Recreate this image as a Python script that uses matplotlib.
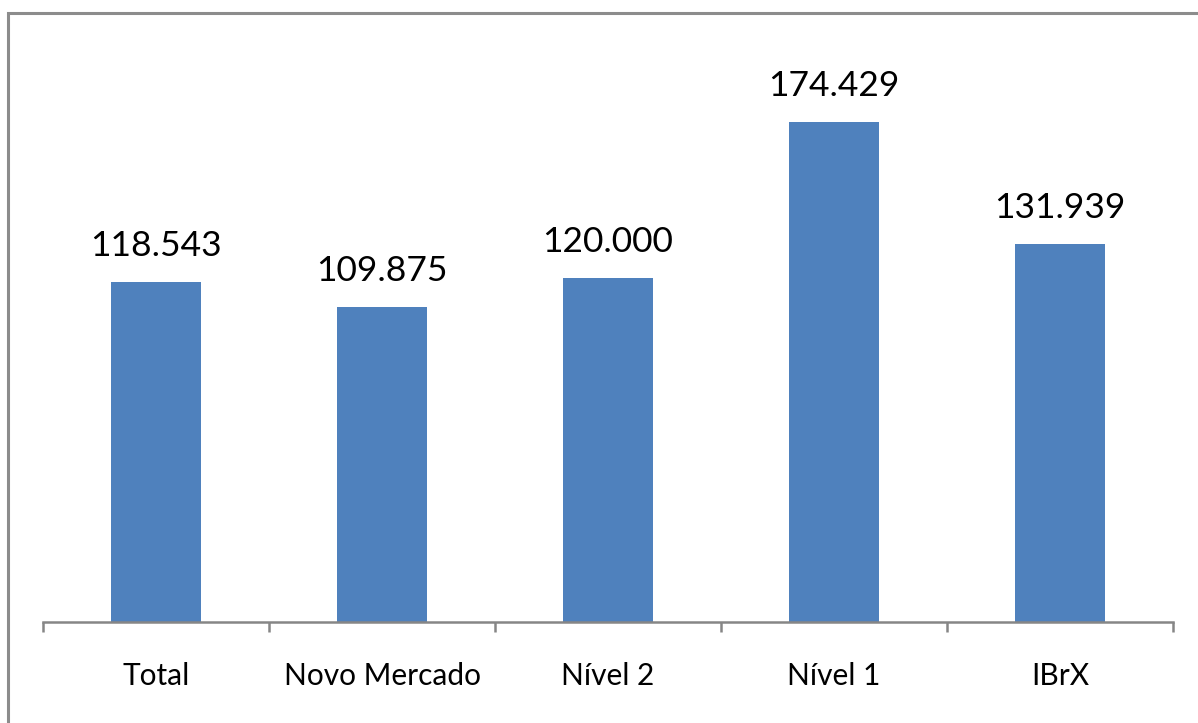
import matplotlib
matplotlib.use("Agg")
import matplotlib.pyplot as plt
from matplotlib.lines import Line2D
from matplotlib.ticker import FixedLocator

# Índice por segmento de listagem
categorias = ["Total", "Novo Mercado", "Nível 2", "Nível 1", "IBrX"]
valores = [118.543, 109.875, 120.000, 174.429, 131.939]
rotulos = ["118.543", "109.875", "120.000", "174.429", "131.939"]

plt.rcParams['font.family'] = ['Lato', 'DejaVu Sans']

fig = plt.figure(figsize=(11.98, 7.23), dpi=100)
# moldura do gráfico: só as bordas superior e esquerda aparecem
x0, y0 = 8 / 1198, (723 - 13) / 723
fig.add_artist(Line2D([x0, x0, 1.0], [0.0, y0, y0], transform=fig.transFigure,
                      color="#8c8c8c", linewidth=2.2, solid_joinstyle="miter"))

ax = fig.add_axes([43 / 1198, 101 / 723, 1130 / 1198, 573 / 723])
x = range(len(categorias))
ax.bar(x, valores, width=0.4, color="#4F81BD", zorder=2)

for xi, v, r in zip(x, valores, rotulos):
    ax.text(xi, v + 7, r, ha="center", va="bottom", fontsize=25.5, color="black")

ax.set_xlim(-0.5, len(categorias) - 0.5)
ax.set_ylim(0, 200)

for s in ["top", "right", "left"]:
    ax.spines[s].set_visible(False)
ax.spines["bottom"].set_color("#868686")
ax.spines["bottom"].set_linewidth(1.8)

ax.set_yticks([])
ax.set_xticks(list(x))
ax.set_xticklabels(categorias, fontsize=21.5)
ax.tick_params(axis="x", which="major", length=0, pad=29)
ax.xaxis.set_minor_locator(FixedLocator([i - 0.5 for i in range(len(categorias) + 1)]))
ax.tick_params(axis="x", which="minor", length=7.5, width=1.8, color="#868686")

fig.savefig("out.png", dpi=100)
